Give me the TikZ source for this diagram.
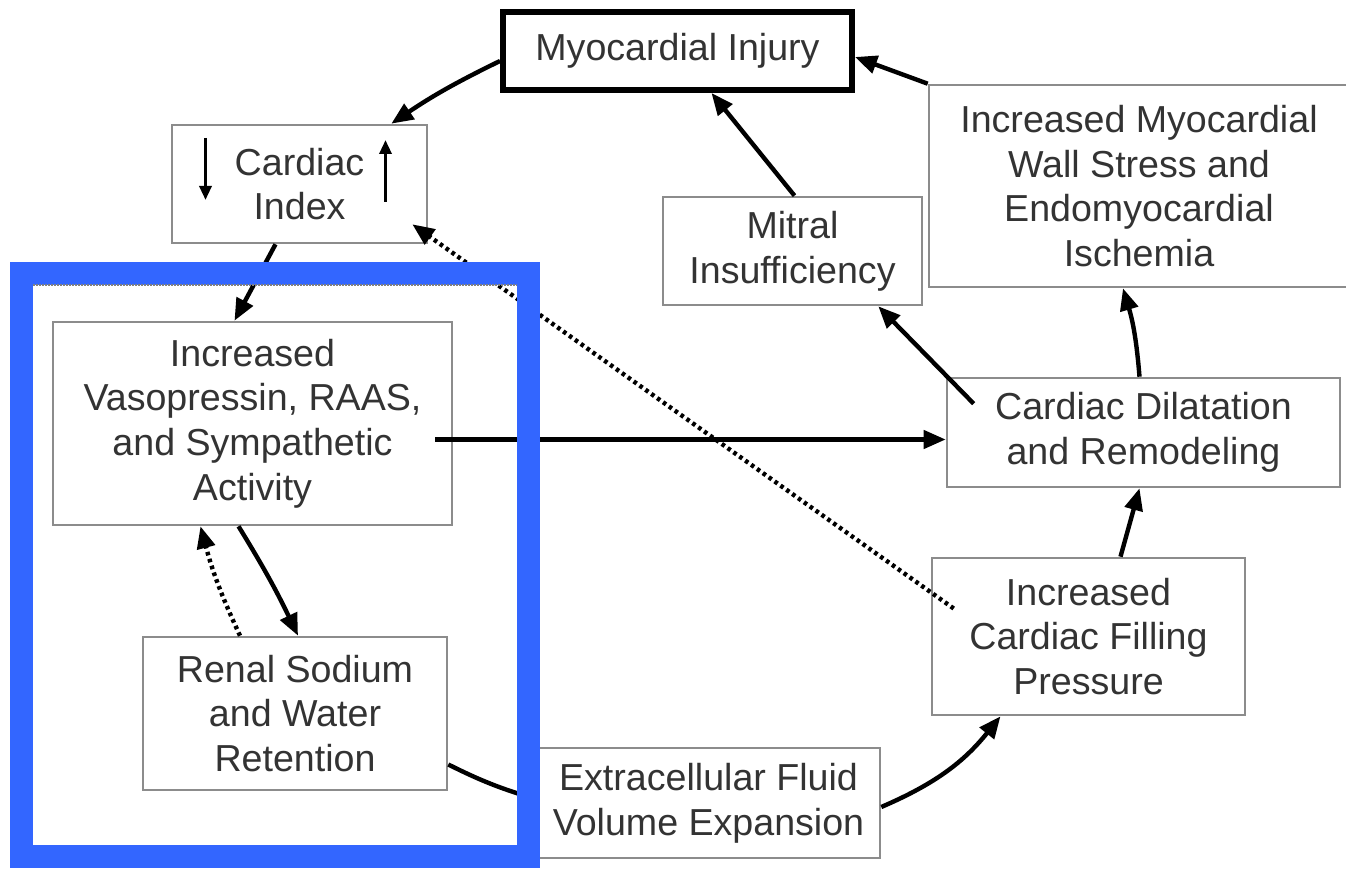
\documentclass[tikz,border=0pt]{standalone}
\usepackage{fontspec}
\setmainfont{Liberation Sans}
\usetikzlibrary{arrows.meta,calc}
\definecolor{frameblue}{HTML}{3366FF}
\definecolor{txt}{HTML}{333333}
\definecolor{boxgray}{HTML}{8C8C8C}
\begin{document}
\begin{tikzpicture}[x=0.5pt,y=-0.5pt,
  box/.style={draw=boxgray,line width=1.3pt,fill=white,align=center,text=txt,
    font=\fontsize{18.8}{22.3}\selectfont,inner sep=0pt},
  conn/.style={line width=2.2pt,-{Triangle[length=11pt,width=9pt]}},
  dotconn/.style={line width=2.2pt,dash pattern=on 1.8pt off 1.8pt,-{Triangle[length=11pt,width=9pt]}},
  small/.style={line width=1.6pt,-{Triangle[length=7pt,width=6pt]}}]
\useasboundingbox (0,0) rectangle (1346,870);
\fill[white] (0,0) rectangle (1346,870);

% nodes
\node[box,draw=black,line width=3pt,minimum width=174.5pt,minimum height=39pt] (inj) at (677.5,51) {Myocardial Injury};
\node[box,minimum width=127.5pt,minimum height=59pt] (ci) at (299.5,184) {Cardiac\\Index};
\node[box,minimum width=199.5pt,minimum height=101.5pt] (vas) at (252.5,423.5) {Increased\\Vasopressin, RAAS,\\and Sympathetic\\Activity};
\node[box,minimum width=152pt,minimum height=76.5pt] (ren) at (295,713.5) {Renal Sodium\\and Water\\Retention};
\node[box,minimum width=171.5pt,minimum height=55pt] (ext) at (708.5,803) {Extracellular Fluid\\Volume Expansion};
\node[box,minimum width=156.5pt,minimum height=78.5pt] (fil) at (1088.5,636.5) {Increased\\Cardiac Filling\\Pressure};
\node[box,minimum width=196.5pt,minimum height=54.5pt] (dil) at (1143.5,432.5) {Cardiac Dilatation\\and Remodeling};
\node[box,minimum width=129.5pt,minimum height=54pt] (mit) at (792.5,251) {Mitral\\Insufficiency};
\node[box,minimum width=210pt,minimum height=101pt] (wall) at (1139,186) {Increased Myocardial\\Wall Stress and\\Endomyocardial\\Ischemia};

% small arrows inside Cardiac Index
\draw[small] ([xshift=-47pt,yshift=23pt]ci.center) -- ([xshift=-47pt,yshift=-8pt]ci.center);
\draw[small] ([xshift=43pt,yshift=-9pt]ci.center) -- ([xshift=43pt,yshift=22pt]ci.center);

% connectors
\draw[conn] ([yshift=-5pt]inj.west) to[bend right=4] ([xshift=-18.5pt]ci.north east);
\draw[conn] ([xshift=-12pt]ci.south) -- ([xshift=-9pt]vas.north);
\draw[conn] ([xshift=-9pt,yshift=-8pt]vas.east) -- ([yshift=-8pt]vas.east -| dil.west);
\draw[conn] ([xshift=-7pt]vas.south) to[bend left=3] ([xshift=1.5pt]ren.north);
\draw[dotconn] ([xshift=-27.5pt]ren.north) to[bend left=5] ([xshift=-26pt]vas.south);
\draw[line width=2.2pt] ([yshift=-25.5pt]ren.east) to[bend right=5] ([yshift=2pt]ext.west);
\draw[conn] ([yshift=-2pt]ext.east) to[bend right=14] ([xshift=-44pt]fil.south);
\draw[conn] ([xshift=16pt]fil.north) -- ([xshift=-2pt]dil.south);
\draw[dotconn] ([xshift=11.5pt,yshift=14pt]fil.west) -- ([xshift=-8pt,yshift=10pt]ci.south east);
\draw[conn] ([xshift=14pt,yshift=-13.5pt]dil.north west) -- ([xshift=-22.5pt]mit.south east);
\draw[conn] ([xshift=-2pt]dil.north) to[bend right=6] ([xshift=-8pt]wall.south);
\draw[conn] ([xshift=1pt]mit.north) -- ([xshift=17pt]inj.south);
\draw[conn] (wall.north west) -- ([yshift=-3pt]inj.east);

% blue frame
\draw[frameblue,line width=11.5pt] (21.5,273.5) rectangle (528.5,856.5);
\draw[gray,line width=0.8pt,dash pattern=on 1pt off 0.5pt] (33,285) -- (517,285);
\end{tikzpicture}
\end{document}
